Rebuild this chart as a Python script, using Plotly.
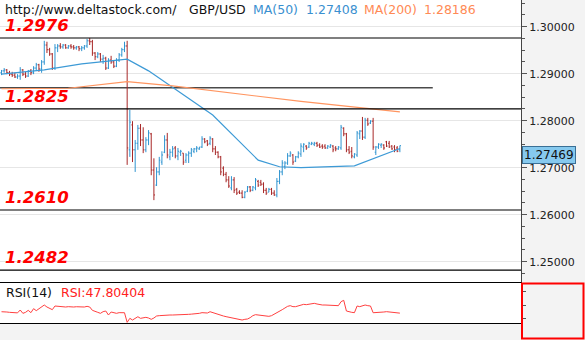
import plotly.graph_objects as go

# ---- GBP/USD hourly bars -------------------------------------------------
bar_open = [
    1.2902, 1.2906, 1.2908, 1.2902, 1.2899, 1.2897, 1.2893, 1.2895, 1.2908, 1.2899,
    1.2895, 1.2906, 1.2902, 1.2912, 1.2919, 1.2910, 1.2925, 1.2961, 1.2951, 1.2942,
    1.2912, 1.2955, 1.2959, 1.2957, 1.2961, 1.2955, 1.2959, 1.2957, 1.2955, 1.2957,
    1.2953, 1.2955, 1.2959, 1.2970, 1.2968, 1.2944, 1.2936, 1.2942, 1.2931, 1.2933,
    1.2912, 1.2929, 1.2925, 1.2916, 1.2929, 1.2940, 1.2951, 1.2959, 1.2738, 1.2791,
    1.2738, 1.2752, 1.2784, 1.2759, 1.2738, 1.2759, 1.2772, 1.2695, 1.2663, 1.2691,
    1.2712, 1.2733, 1.2759, 1.2723, 1.2733, 1.2742, 1.2725, 1.2733, 1.2731, 1.2716,
    1.2727, 1.2731, 1.2735, 1.2740, 1.2740, 1.2744, 1.2761, 1.2757, 1.2752, 1.2761,
    1.2740, 1.2733, 1.2723, 1.2699, 1.2686, 1.2674, 1.2657, 1.2674, 1.2654, 1.2648,
    1.2646, 1.2637, 1.2650, 1.2659, 1.2652, 1.2657, 1.2671, 1.2669, 1.2665, 1.2652,
    1.2648, 1.2654, 1.2646, 1.2642, 1.2671, 1.2691, 1.2703, 1.2710, 1.2725, 1.2727,
    1.2714, 1.2723, 1.2729, 1.2744, 1.2746, 1.2744, 1.2750, 1.2750, 1.2752, 1.2748,
    1.2746, 1.2746, 1.2742, 1.2744, 1.2746, 1.2742, 1.2740, 1.2742, 1.2784, 1.2772,
    1.2738, 1.2735, 1.2723, 1.2727, 1.2772, 1.2778, 1.2765, 1.2801, 1.2795, 1.2799,
    1.2733, 1.2744, 1.2748, 1.2748, 1.2755, 1.2752, 1.2746, 1.2744, 1.2742, 1.2738,
]
bar_high = [
    1.2908, 1.2912, 1.2910, 1.2906, 1.2904, 1.2902, 1.2899, 1.2914, 1.2910, 1.2904,
    1.2908, 1.2910, 1.2916, 1.2923, 1.2921, 1.2929, 1.2970, 1.2968, 1.2955, 1.2944,
    1.2963, 1.2963, 1.2965, 1.2963, 1.2963, 1.2961, 1.2963, 1.2961, 1.2959, 1.2959,
    1.2959, 1.2961, 1.2974, 1.2976, 1.2972, 1.2946, 1.2946, 1.2944, 1.2940, 1.2936,
    1.2933, 1.2938, 1.2929, 1.2933, 1.2944, 1.2955, 1.2968, 1.2970, 1.2823, 1.2799,
    1.2759, 1.2791, 1.2793, 1.2786, 1.2765, 1.2780, 1.2774, 1.2720, 1.2701, 1.2723,
    1.2735, 1.2769, 1.2774, 1.2740, 1.2746, 1.2746, 1.2742, 1.2738, 1.2731, 1.2731,
    1.2735, 1.2742, 1.2742, 1.2746, 1.2744, 1.2767, 1.2763, 1.2759, 1.2767, 1.2763,
    1.2746, 1.2735, 1.2725, 1.2703, 1.2691, 1.2682, 1.2682, 1.2680, 1.2657, 1.2652,
    1.2652, 1.2650, 1.2661, 1.2661, 1.2661, 1.2678, 1.2674, 1.2674, 1.2669, 1.2657,
    1.2657, 1.2657, 1.2652, 1.2678, 1.2695, 1.2716, 1.2714, 1.2731, 1.2735, 1.2729,
    1.2725, 1.2735, 1.2752, 1.2752, 1.2748, 1.2755, 1.2755, 1.2755, 1.2755, 1.2752,
    1.2750, 1.2750, 1.2748, 1.2750, 1.2748, 1.2746, 1.2746, 1.2791, 1.2786, 1.2774,
    1.2746, 1.2744, 1.2731, 1.2778, 1.2780, 1.2808, 1.2806, 1.2806, 1.2801, 1.2806,
    1.2746, 1.2752, 1.2752, 1.2750, 1.2757, 1.2757, 1.2748, 1.2748, 1.2746, 1.2747,
]
bar_low = [
    1.2897, 1.2902, 1.2899, 1.2895, 1.2893, 1.2891, 1.2889, 1.2887, 1.2895, 1.2891,
    1.2893, 1.2897, 1.2899, 1.2906, 1.2904, 1.2902, 1.2919, 1.2944, 1.2938, 1.2908,
    1.2908, 1.2946, 1.2953, 1.2953, 1.2953, 1.2953, 1.2953, 1.2951, 1.2951, 1.2948,
    1.2948, 1.2951, 1.2955, 1.2961, 1.2938, 1.2929, 1.2933, 1.2925, 1.2921, 1.2908,
    1.2910, 1.2921, 1.2912, 1.2914, 1.2925, 1.2936, 1.2946, 1.2706, 1.2723, 1.2712,
    1.2691, 1.2738, 1.2746, 1.2731, 1.2733, 1.2748, 1.2684, 1.2631, 1.2661, 1.2684,
    1.2706, 1.2731, 1.2720, 1.2716, 1.2723, 1.2720, 1.2716, 1.2725, 1.2706, 1.2710,
    1.2710, 1.2723, 1.2731, 1.2733, 1.2738, 1.2742, 1.2752, 1.2746, 1.2748, 1.2733,
    1.2727, 1.2720, 1.2684, 1.2682, 1.2669, 1.2657, 1.2652, 1.2646, 1.2642, 1.2644,
    1.2635, 1.2635, 1.2648, 1.2648, 1.2650, 1.2652, 1.2659, 1.2661, 1.2646, 1.2642,
    1.2648, 1.2642, 1.2640, 1.2637, 1.2665, 1.2684, 1.2697, 1.2706, 1.2723, 1.2706,
    1.2712, 1.2720, 1.2723, 1.2733, 1.2738, 1.2742, 1.2748, 1.2746, 1.2744, 1.2742,
    1.2740, 1.2740, 1.2740, 1.2742, 1.2733, 1.2735, 1.2738, 1.2738, 1.2767, 1.2733,
    1.2729, 1.2720, 1.2720, 1.2723, 1.2761, 1.2759, 1.2761, 1.2789, 1.2793, 1.2738,
    1.2727, 1.2740, 1.2742, 1.2738, 1.2744, 1.2742, 1.2738, 1.2733, 1.2733, 1.2733,
]
bar_close = [
    1.2906, 1.2908, 1.2902, 1.2899, 1.2897, 1.2893, 1.2895, 1.2908, 1.2899, 1.2895,
    1.2906, 1.2902, 1.2912, 1.2919, 1.2910, 1.2925, 1.2961, 1.2951, 1.2942, 1.2912,
    1.2955, 1.2959, 1.2957, 1.2961, 1.2955, 1.2959, 1.2957, 1.2955, 1.2957, 1.2953,
    1.2955, 1.2959, 1.2970, 1.2968, 1.2944, 1.2936, 1.2942, 1.2931, 1.2933, 1.2912,
    1.2929, 1.2925, 1.2916, 1.2929, 1.2940, 1.2951, 1.2959, 1.2742, 1.2797, 1.2738,
    1.2752, 1.2784, 1.2759, 1.2738, 1.2759, 1.2774, 1.2695, 1.2642, 1.2691, 1.2716,
    1.2727, 1.2759, 1.2727, 1.2733, 1.2740, 1.2725, 1.2735, 1.2735, 1.2712, 1.2727,
    1.2731, 1.2738, 1.2740, 1.2742, 1.2744, 1.2761, 1.2755, 1.2750, 1.2763, 1.2740,
    1.2733, 1.2723, 1.2691, 1.2686, 1.2674, 1.2661, 1.2674, 1.2652, 1.2646, 1.2646,
    1.2637, 1.2648, 1.2659, 1.2652, 1.2659, 1.2674, 1.2663, 1.2665, 1.2652, 1.2646,
    1.2654, 1.2646, 1.2642, 1.2671, 1.2691, 1.2710, 1.2710, 1.2725, 1.2731, 1.2712,
    1.2723, 1.2731, 1.2746, 1.2750, 1.2742, 1.2752, 1.2752, 1.2752, 1.2748, 1.2744,
    1.2744, 1.2742, 1.2746, 1.2748, 1.2738, 1.2740, 1.2744, 1.2786, 1.2772, 1.2738,
    1.2733, 1.2725, 1.2729, 1.2774, 1.2778, 1.2765, 1.2801, 1.2793, 1.2799, 1.2744,
    1.2744, 1.2750, 1.2750, 1.2742, 1.2746, 1.2744, 1.2740, 1.2738, 1.2735, 1.27469,
]

# ---- indicators ------------------------------------------------------------
ma50_bars = [0, 16, 30, 47, 55, 71, 79, 96, 104, 112, 132, 149]
ma50_values = [1.2899, 1.2908, 1.2921, 1.2931, 1.2906, 1.2843, 1.2812,
               1.2716, 1.2702, 1.2700, 1.2704, 1.27408]
ma200_bars = [0, 25, 47, 64, 112, 149]
ma200_values = [1.2868, 1.2869, 1.2883, 1.2874, 1.2841, 1.28186]

rsi_values = [
    49.9, 50.0, 49.5, 49.0, 48.8, 48.5, 48.2, 52.5, 47.5, 49.0,
    52.0, 48.5, 54.5, 51.5, 54.0, 57.0, 60.0, 57.0, 55.5, 53.0,
    58.5, 58.0, 57.5, 57.0, 57.0, 57.5, 57.0, 57.0, 57.4, 57.0,
    57.0, 57.0, 58.0, 57.0, 52.0, 50.0, 49.0, 47.5, 50.0, 51.0,
    45.0, 49.5, 48.5, 47.5, 48.5, 48.8, 48.4, 34.0, 40.0, 37.5,
    40.0, 42.4, 40.0, 40.5, 41.5, 40.5, 38.5, 40.5, 43.5, 44.0,
    44.5, 45.0, 45.0, 45.0, 45.0, 45.0, 45.0, 45.2, 45.5, 45.8,
    46.0, 46.3, 46.5, 47.0, 47.5, 48.5, 48.0, 48.0, 49.9, 48.5,
    47.0, 45.5, 44.5, 43.5, 42.5, 41.5, 41.0, 40.0, 39.0, 38.0,
    37.5, 38.5, 39.0, 41.0, 44.0, 45.5, 45.0, 44.0, 43.5, 43.0,
    43.0, 44.0, 46.0, 48.0, 51.0, 53.0, 55.5, 58.0, 59.0, 57.5,
    57.5, 58.5, 60.0, 61.0, 60.5, 61.5, 62.0, 62.5, 61.5, 60.5,
    60.0, 60.0, 60.0, 60.0, 60.0, 59.5, 59.0, 65.0, 67.0, 51.0,
    49.5, 49.0, 48.5, 58.5, 57.5, 59.0, 60.0, 59.0, 58.5, 48.4,
    48.5, 49.0, 49.5, 49.5, 50.0, 49.5, 49.0, 48.8, 48.5, 47.80404,
]

# ---- chart annotations -----------------------------------------------------
levels = [1.2976, 1.2825, 1.2610, 1.2482]
level_labels = ["1.2976", "1.2825", "1.2610", "1.2482"]
trend_level = 1.2870
trend_end_bar = 161.3
last_price = 1.27469
ma50_last = 1.27408
ma200_last = 1.28186
rsi_last = 47.80404

# ---- style -----------------------------------------------------------------
W, H = 585, 340
PLOT_RIGHT = 521
MAIN_BOTTOM = 283
RSI_BOTTOM = 323
UP = "#2f94d0"
DOWN = "#a82828"
MA50_COLOR = "#3d9ad6"
MA200_COLOR = "#ff9560"
FONT = "DejaVu Sans"
X_RANGE = [-0.56, 194.3]
PRICE_RANGE = [1.245468, 1.305681]
RSI_RANGE = [33, 93]

bars = list(range(len(bar_close)))

fig = go.Figure()
fig.add_trace(go.Ohlc(
    x=bars, open=bar_open, high=bar_high, low=bar_low, close=bar_close,
    increasing=dict(line=dict(color=UP, width=1)),
    decreasing=dict(line=dict(color=DOWN, width=1)),
    tickwidth=0.42, xaxis="x", yaxis="y", showlegend=False,
))
fig.add_trace(go.Scatter(
    x=ma50_bars, y=ma50_values, mode="lines",
    line=dict(color=MA50_COLOR, width=1.2), xaxis="x", yaxis="y", showlegend=False,
))
fig.add_trace(go.Scatter(
    x=ma200_bars, y=ma200_values, mode="lines",
    line=dict(color=MA200_COLOR, width=1.2), xaxis="x", yaxis="y", showlegend=False,
))
fig.add_trace(go.Scatter(
    x=bars, y=rsi_values, mode="lines",
    line=dict(color="#ff4040", width=1), xaxis="x2", yaxis="y2", showlegend=False,
))

shapes = []
for lv in levels:
    shapes.append(dict(type="line", xref="x domain", x0=0, x1=1, yref="y", y0=lv, y1=lv,
                       line=dict(color="#000000", width=1.2), layer="above"))
shapes.append(dict(type="line", xref="x", x0=X_RANGE[0], x1=trend_end_bar, yref="y",
                   y0=trend_level, y1=trend_level,
                   line=dict(color="#4a4a4a", width=1.6), layer="below"))
# highlighted RSI scale box
shapes.append(dict(type="rect", xref="paper", yref="paper",
                   x0=(PLOT_RIGHT + 1) / W, x1=583.5 / W,
                   y0=1 - 338.5 / H, y1=1 - (MAIN_BOTTOM + 0.5) / H,
                   line=dict(color="#ff0000", width=2), fillcolor="rgba(0,0,0,0)"))

annotations = []
for lv, txt in zip(levels, level_labels):
    annotations.append(dict(
        text=f"<b><i>{txt}</i></b>", xref="paper", x=4 / W, xanchor="left",
        yref="y", y=lv, yanchor="bottom", yshift=2, showarrow=False, borderpad=0,
        font=dict(family=FONT, size=16.5, color="#ff0000"),
    ))

header = [
    ("http://www.deltastock.com/", 4, "#111111"),
    ("GBP/USD", 188, "#111111"),
    ("MA(50)", 252, "#3a90d0"),
    (f"{ma50_last:.5f}", 305, "#3a90d0"),
    ("MA(200)", 363, "#ff8a55"),
    (f"{ma200_last:.5f}", 423, "#ff8a55"),
]
for txt, xpx, col in header:
    annotations.append(dict(
        text=txt, xref="paper", x=xpx / W, xanchor="left",
        yref="paper", y=1 - 9 / H, yanchor="middle", showarrow=False, borderpad=0,
        font=dict(family=FONT, size=12.5, color=col),
    ))

for txt, xpx, col in [("RSI(14)", 5, "#111111"), (f"RSI:{rsi_last:.5f}", 60, "#ff2020")]:
    annotations.append(dict(
        text=txt, xref="paper", x=xpx / W, xanchor="left",
        yref="paper", y=1 - 292 / H, yanchor="middle", showarrow=False, borderpad=0,
        font=dict(family=FONT, size=12.5, color=col),
    ))

# current price marker on the scale
annotations.append(dict(
    text=f"{last_price:.5f}", xref="paper", x=(PLOT_RIGHT + 1) / W, xanchor="left",
    yref="y", y=last_price, yanchor="top", showarrow=False,
    font=dict(family=FONT, size=12, color="#111111"),
    bgcolor="#86c9ee", bordercolor="#3a6f95", borderwidth=1, borderpad=1,
))

fig.update_layout(
    width=W, height=H,
    margin=dict(l=0, r=0, t=0, b=0),
    paper_bgcolor="#f3f3f3",
    plot_bgcolor="#ffffff",
    showlegend=False,
    shapes=shapes,
    annotations=annotations,
    xaxis=dict(domain=[0, PLOT_RIGHT / W], range=X_RANGE, anchor="y",
               showgrid=False, zeroline=False, showticklabels=False, ticks="",
               rangeslider=dict(visible=False), fixedrange=True),
    yaxis=dict(domain=[1 - MAIN_BOTTOM / H, 1], range=PRICE_RANGE, anchor="x",
               side="right", showgrid=True, gridcolor="#e6e6e6", gridwidth=1,
               zeroline=False, tick0=1.25, dtick=0.01, tickformat=".5f",
               ticks="outside", ticklen=5, tickcolor="#555555",
               minor=dict(dtick=0.0025, tick0=1.25, ticks="outside", ticklen=3,
                          tickcolor="#555555", showgrid=False),
               showline=True, linecolor="#444444", linewidth=1,
               tickfont=dict(family=FONT, size=11, color="#222222")),
    xaxis2=dict(domain=[0, PLOT_RIGHT / W], range=X_RANGE, anchor="y2", matches="x",
                showgrid=False, zeroline=False, showticklabels=False, ticks="",
                showline=True, mirror=True, linecolor="#000000", linewidth=1.2,
                rangeslider=dict(visible=False)),
    yaxis2=dict(domain=[1 - RSI_BOTTOM / H, 1 - MAIN_BOTTOM / H], range=RSI_RANGE,
                anchor="x2", side="right", showgrid=False, zeroline=False,
                tickvals=[40, 60, 80], ticks="outside", ticklen=4, tickcolor="#555555",
                showticklabels=False, showline=True, linecolor="#444444", linewidth=1),
)

fig.write_html("out.html")
